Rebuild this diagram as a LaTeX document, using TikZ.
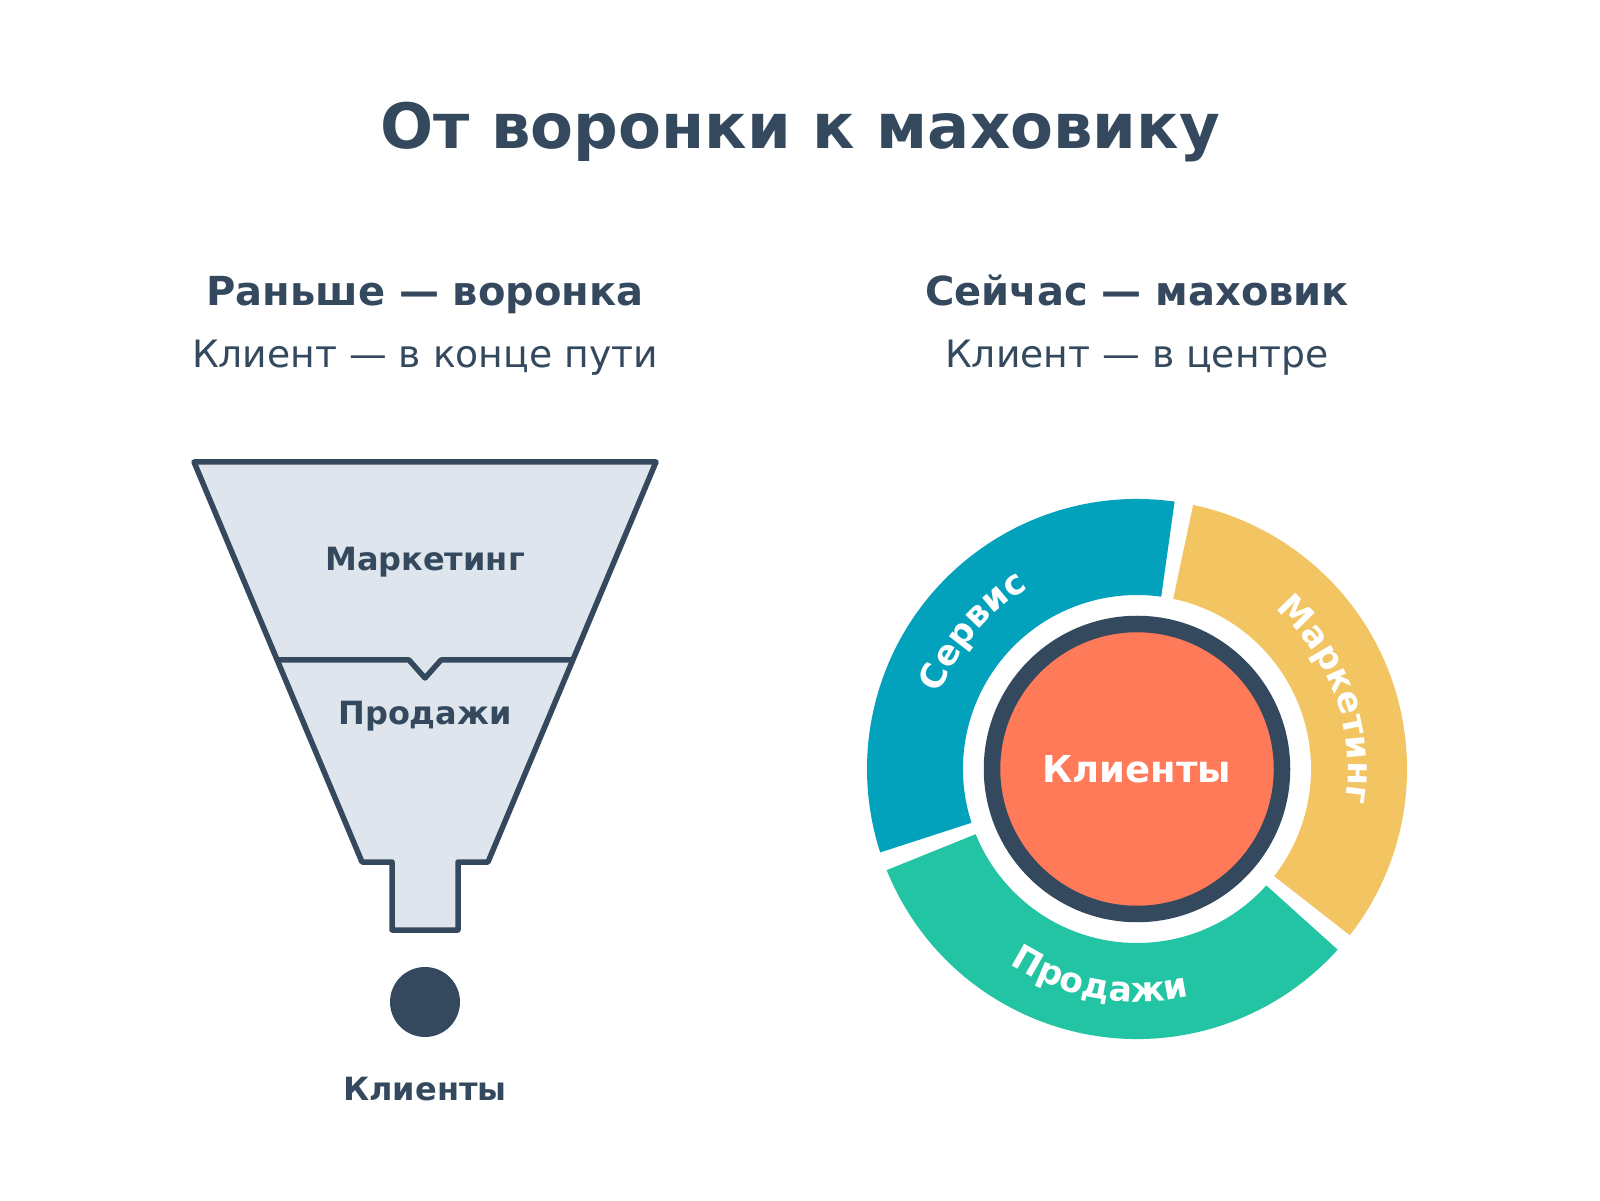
\documentclass[tikz,border=0pt]{standalone}
\usepackage{fontspec}
\setmainfont{DejaVu Sans}
\usetikzlibrary{positioning,decorations.text}
\definecolor{ink}{HTML}{34495E}
\definecolor{funnelfill}{HTML}{DFE5EC}
\definecolor{servicecol}{HTML}{02A2BD}
\definecolor{salescol}{HTML}{22C4A3}
\definecolor{marketcol}{HTML}{F2C462}
\definecolor{clientcol}{HTML}{FF7A59}

\begin{document}
\begin{tikzpicture}[x=1pt,y=1pt,
  bigtitle/.style={font=\bfseries\fontsize{62.5}{70}\selectfont, text=ink, anchor=base},
  head/.style={font=\bfseries\fontsize{40}{46}\selectfont, text=ink, anchor=base},
  sub/.style={font=\fontsize{37.7}{44}\selectfont, text=ink, anchor=base},
  flabel/.style={font=\bfseries\fontsize{32}{38}\selectfont, text=ink, anchor=base},
  arctext/.style={decorate, decoration={text along path, text align=center,
    text={|\bfseries\fontsize{34.5}{40}\selectfont\color{white}|#1}}}]
\useasboundingbox (0,0) rectangle (1600,1200);
\node[bigtitle] (title) at (800,1051) {От воронки к маховику};
% left: funnel
\node[head] (funnelhead) at (425,894) {Раньше — воронка};
\node[sub] (funnelsub) at (425,832) {Клиент — в конце пути};
\draw[ink, fill=funnelfill, line width=5.5, line join=round] (194,738) -- (656,738) -- (488,338) -- (458,338) -- (458,270) -- (392,270) -- (392,338) -- (362,338) -- cycle;
\draw[ink, line width=5.5, line join=round] (277,540) -- (409,540) -- (425,522) -- (441,540) -- (573,540);
\node[flabel] (funnelmkt) at (425,629) {Маркетинг};
\node[flabel] (funnelsales) at (425,475) {Продажи};
\fill[ink] (425,198) circle (35);
\node[flabel] (funnelclients) at (425,100) {Клиенты};
% right: flywheel
\coordinate (C) at (1137,431);
\node[head] (wheelhead) at (1137,894) {Сейчас — маховик};
\node[sub] (wheelsub) at (1137,832) {Клиент — в центре};
\foreach \a/\b/\c in {82/198/servicecol, 202/318/salescol, -38/78/marketcol}
  \fill[\c] ([shift={(\a:270)}]C) arc[start angle=\a, end angle=\b, radius=270]
    -- ([shift={(\b:174)}]C) arc[start angle=\b, end angle=\a, radius=174] -- cycle;
\path[arctext=Сервис] ([shift={(180:211)}]C) arc[start angle=180, end angle=100, radius=211];
\path[arctext=Маркетинг] ([shift={(80:211)}]C) arc[start angle=80, end angle=-40, radius=211];
\path[arctext=Продажи] ([shift={(225:233)}]C) arc[start angle=225, end angle=295, radius=233];
\draw[ink, line width=16.5, fill=clientcol] (C) circle (145);
\node[font=\bfseries\fontsize{37}{44}\selectfont, text=white] (wheelclients) at (C) {Клиенты};
\end{tikzpicture}
\end{document}
